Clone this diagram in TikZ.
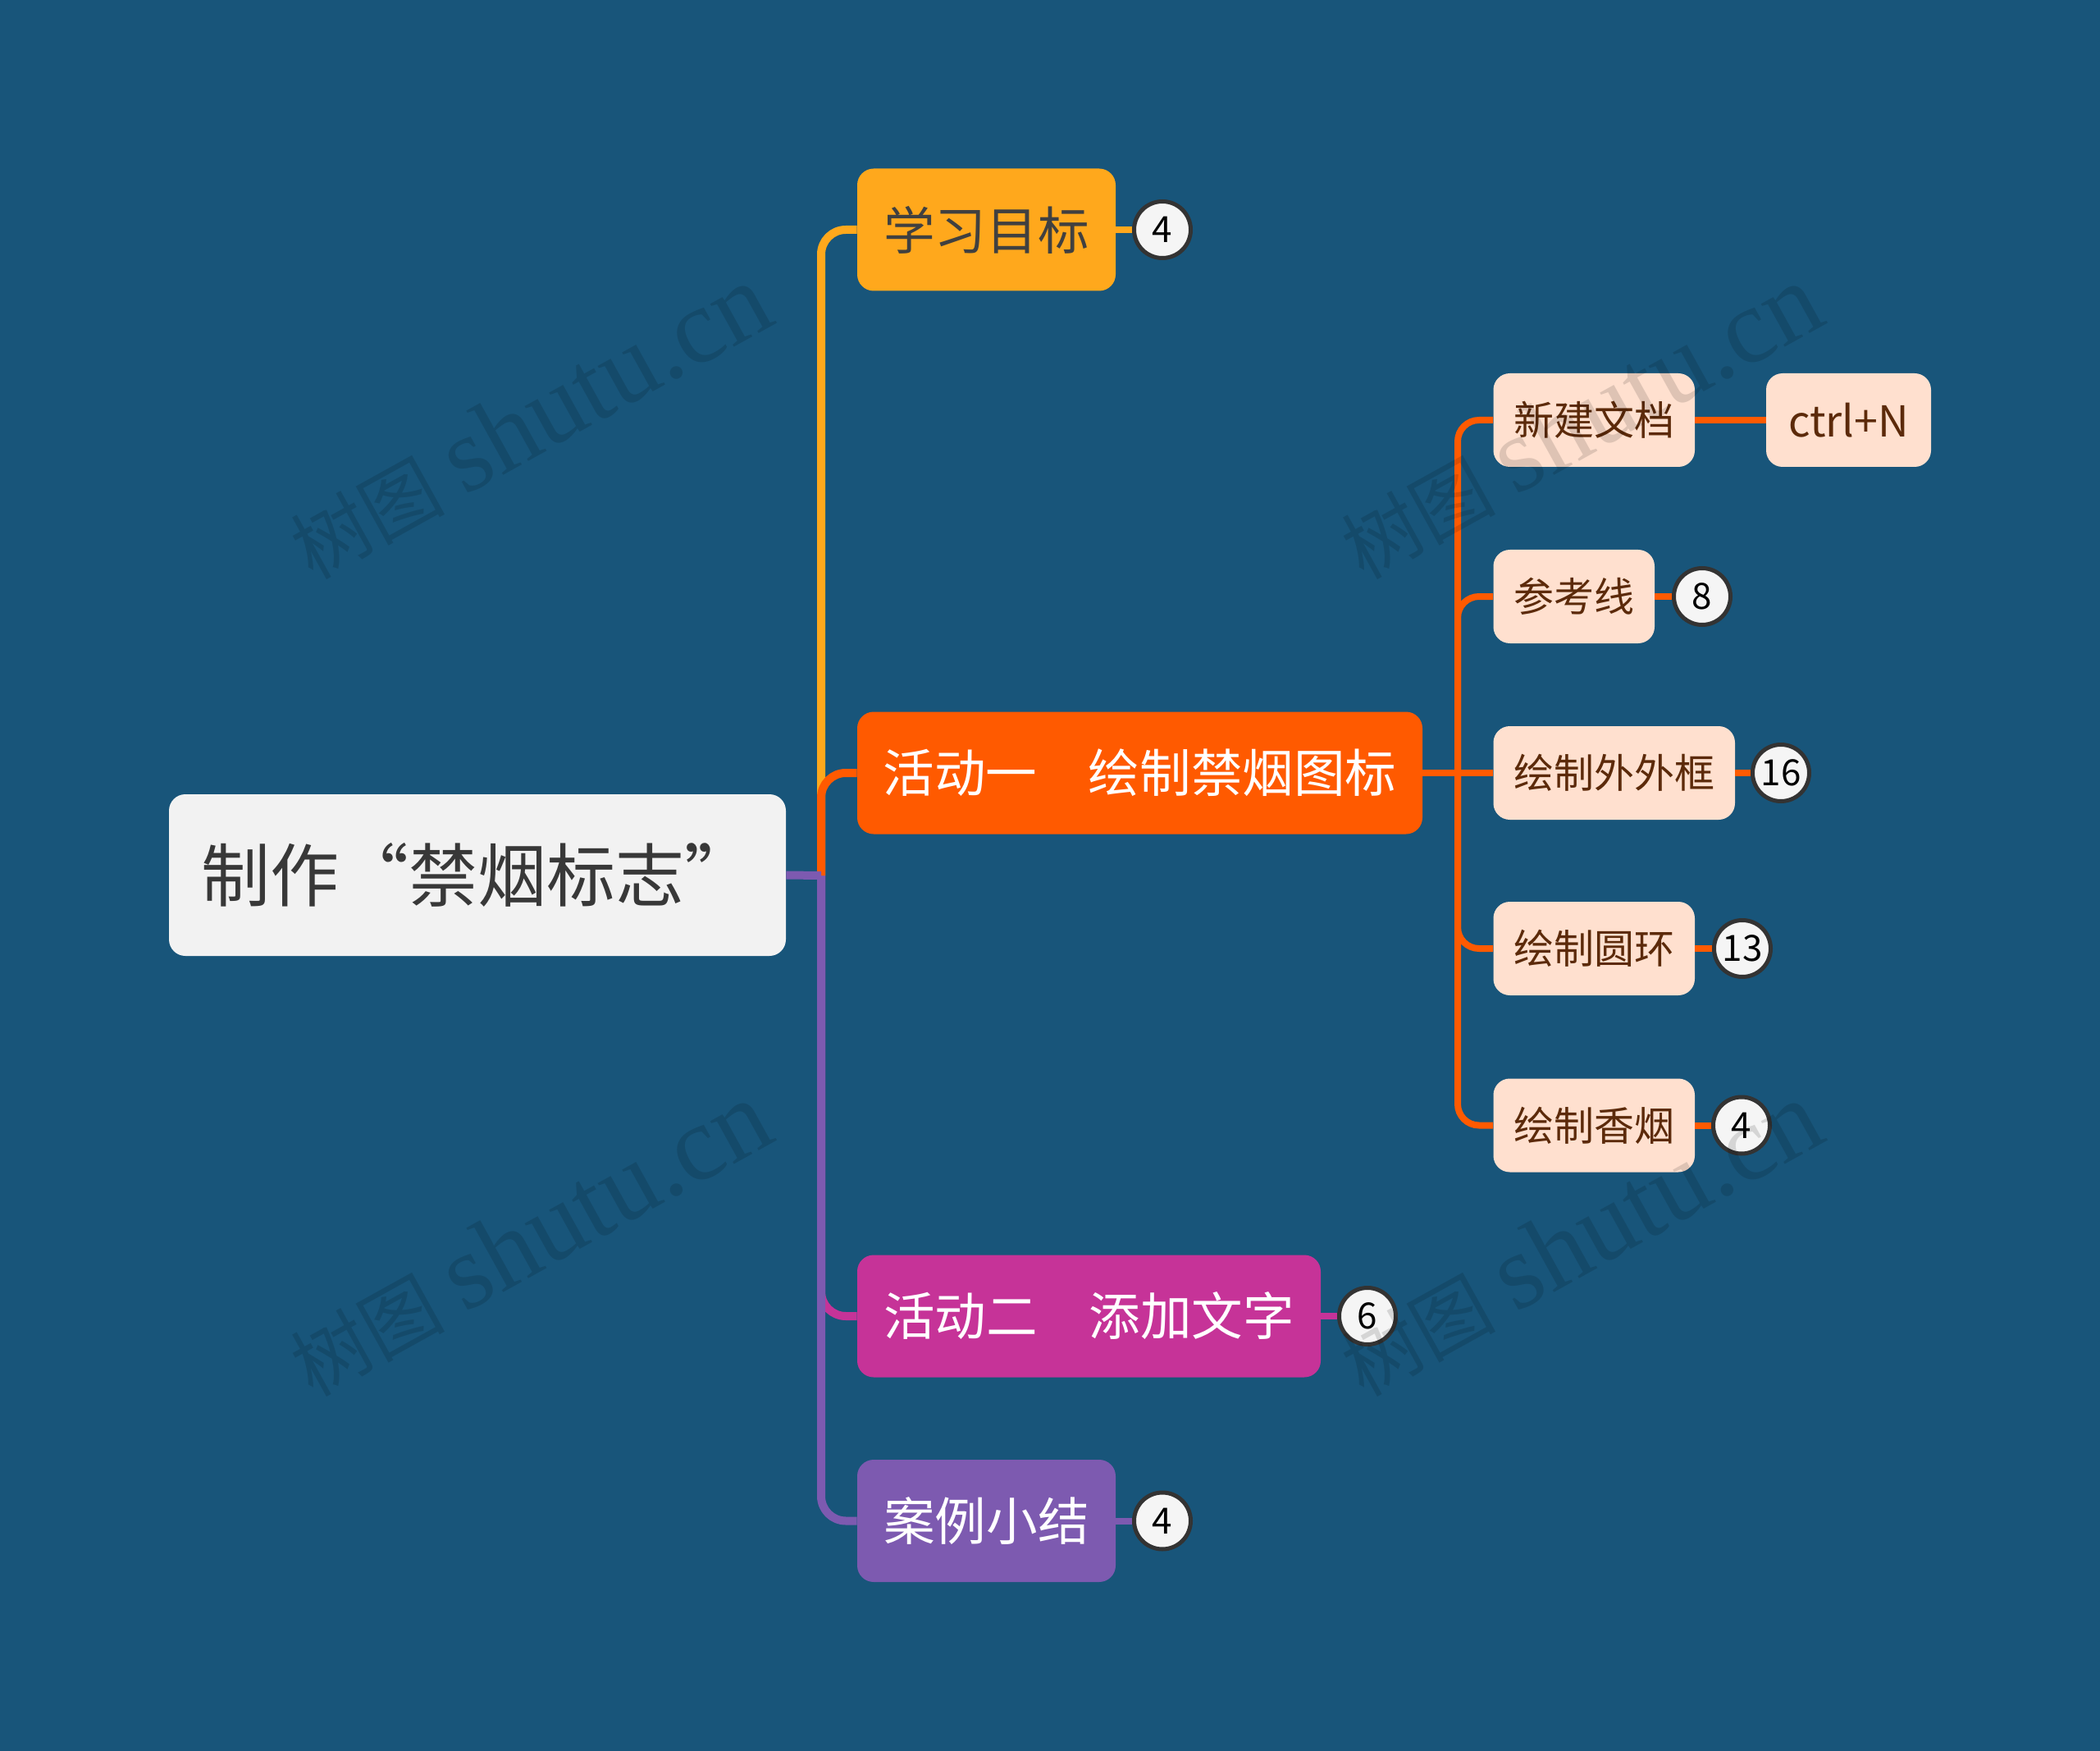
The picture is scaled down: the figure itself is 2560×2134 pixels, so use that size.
\documentclass[tikz,border=0pt]{standalone}
\usepackage{fontspec}
\setmainfont{Noto Sans CJK SC}
\newfontfamily\wmcjk{Noto Sans CJK SC}
\newfontfamily\wmlat{Liberation Serif}
\definecolor{bgc}{HTML}{18557A}
\definecolor{yel}{HTML}{FFA81C}
\definecolor{org}{HTML}{FF5A00}
\definecolor{mag}{HTML}{C63398}
\definecolor{pur}{HTML}{7D5AB0}
\definecolor{subfill}{HTML}{FFE0CF}
\definecolor{subtext}{HTML}{5C2A0A}
\definecolor{rootfill}{HTML}{F2F2F2}
\newcommand{\wmtext}{{\wmcjk\fontsize{47pt}{70pt}\selectfont 树图}\hspace{10pt} {\wmlat\fontsize{65pt}{70pt}\selectfont shutu.cn}}
\tikzset{
  x=0.5pt,y=-0.5pt,
  box/.style={rounded corners=10pt,inner sep=0pt,align=center,anchor=center},
  rootbox/.style={box,fill=rootfill,text=black!78,font=\fontsize{42pt}{50pt}\selectfont,minimum width=376pt,minimum height=98.5pt},
  mainbox/.style={box,font=\fontsize{31.3pt}{38pt}\selectfont,minimum height=74.5pt},
  subbox/.style={box,fill=subfill,text=subtext,rounded corners=10pt,font=\fontsize{24.5pt}{30pt}\selectfont,minimum height=57pt},
  badge/.style={circle,draw=black!80,line width=2.5pt,fill=black!4,text=black,inner sep=0pt,minimum size=34.5pt,font=\fontsize{22pt}{28pt}\selectfont},
  wire/.style={line width=5pt,rounded corners=15pt},
  subwire/.style={line width=4pt,rounded corners=13pt,draw=org},
  wmark/.style={text=black,opacity=.13,text opacity=.13,rotate=29,inner sep=0pt}
}
\begin{document}
\begin{tikzpicture}
\fill[bgc] (0,0) rectangle (2560,2134);
\useasboundingbox (0,0) rectangle (2560,2134);

\coordinate (trunk) at (1001,1067);
\coordinate (subtrunk) at (1777,942);

\node[rootbox] (root) at (582,1066.5) {\spaceskip=1pt\relax 制作 “禁烟标志”};

\node[mainbox,fill=yel,text=black!75,minimum width=157.5pt] (m1) at (1202.5,280) {学习目标};
\node[mainbox,fill=org,text=white,minimum width=344.5pt] (m2) at (1389.5,942) {活动一　绘制禁烟图标};
\node[mainbox,fill=mag,text=white,minimum width=282.5pt] (m3) at (1327.5,1604) {活动二　添加文字};
\node[mainbox,fill=pur,text=white,minimum width=157.5pt] (m4) at (1202.5,1853.5) {案例小结};

\node[subbox,minimum width=122.75pt] (s1) at (1943.25,512) {新建文档};
\node[subbox,minimum width=98.25pt] (s2) at (1918.75,727) {参考线};
\node[subbox,minimum width=147.25pt] (s3) at (1967.75,942) {绘制外外框};
\node[subbox,minimum width=122.75pt] (s4) at (1943.25,1156) {绘制圆环};
\node[subbox,minimum width=122.75pt] (s5) at (1943.25,1371.5) {绘制香烟};
\node[subbox,minimum width=100.5pt,font=\fontsize{26pt}{30pt}\selectfont] (n1) at (2253.5,512) {ctrl+N};

\node[badge] (b1) at (1417,280) {4};
\node[badge] (b2) at (2075,727) {8};
\node[badge] (b3) at (2171,942) {16};
\node[badge] (b4) at (2124,1156) {13};
\node[badge] (b5) at (2123,1371.5) {4};
\node[badge] (b6) at (1667,1604) {6};
\node[badge] (b7) at (1417,1853.5) {4};

\draw[wire,draw=yel] (trunk) |- (m1.west);
\draw[wire,draw=mag] (trunk) |- (m3.west);
\draw[wire,draw=pur] (trunk) |- (m4.west);
\draw[wire,draw=org] (trunk) |- (m2.west);
\draw[wire,draw=pur] (root.east) -- (trunk);

\draw[subwire] (subtrunk) |- (s1.west);
\draw[subwire] (subtrunk) |- (s2.west);
\draw[subwire] (subtrunk) |- (s4.west);
\draw[subwire] (subtrunk) |- (s5.west);
\draw[subwire] (m2.east) -- (s3.west);
\draw[subwire] (s1.east) -- (n1.west);

\draw[line width=4pt,draw=yel] (m1.east) -- (b1.west);
\draw[subwire] (s2.east) -- (b2.west);
\draw[subwire] (s3.east) -- (b3.west);
\draw[subwire] (s4.east) -- (b4.west);
\draw[subwire] (s5.east) -- (b5.west);
\draw[line width=4pt,draw=mag] (m3.east) -- (b6.west);
\draw[line width=4pt,draw=pur] (m4.east) -- (b7.west);

\node[wmark] (w1) at (645,514) {\wmtext};
\node[wmark] (w2) at (1926,514) {\wmtext};
\node[wmark] (w3) at (645,1510) {\wmtext};
\node[wmark] (w4) at (1926,1510) {\wmtext};
\end{tikzpicture}
\end{document}
